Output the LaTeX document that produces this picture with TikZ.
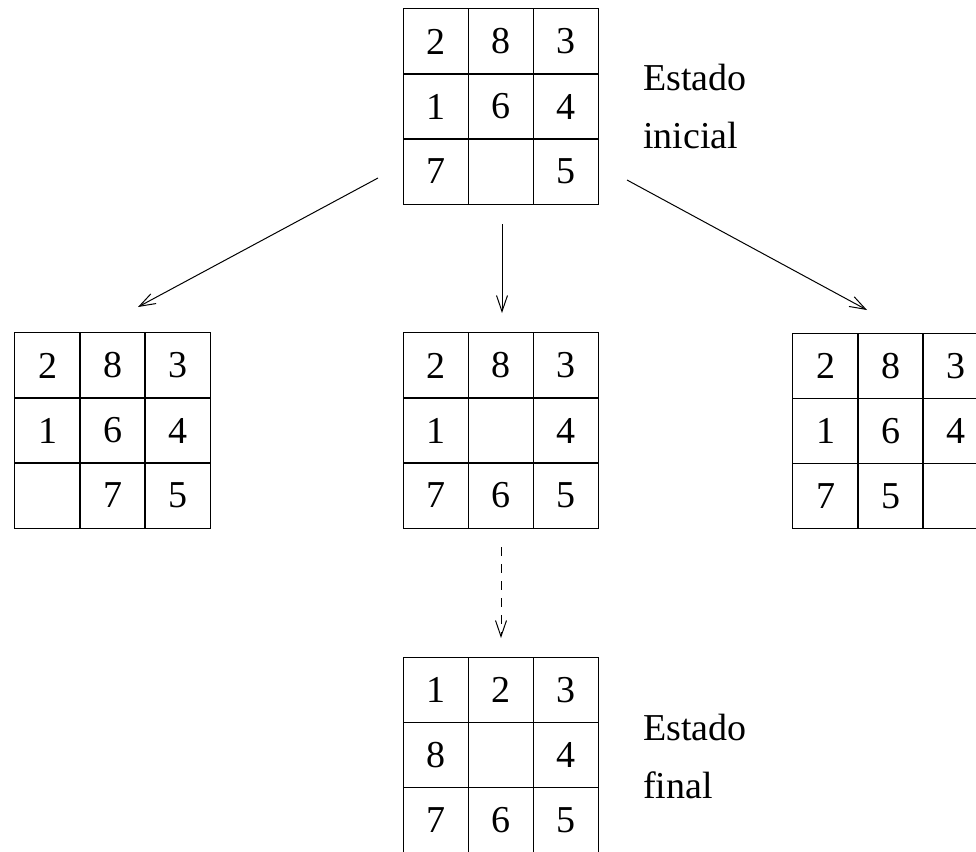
\documentclass[tikz,border=0pt]{standalone}
\usepackage{fontspec}
\setmainfont{Liberation Serif}
\usetikzlibrary{matrix,arrows.meta,calc}
\begin{document}
\begin{tikzpicture}[x=1pt,y=-1pt,
  puzzle/.style={matrix of nodes, nodes in empty cells, inner sep=0pt,
    column sep=0pt, row sep=0pt,
    nodes={minimum width=65pt, minimum height=65pt,
      inner sep=0pt, anchor=center,
      font=\fontsize{38}{46}\selectfont}},
  gridline/.style={line width=1.2pt},
  label text/.style={anchor=north west, inner sep=0pt, align=left,
      font=\fontsize{38}{58}\selectfont},
  move/.style={line width=1pt, -{Straight Barb[length=16pt,width=11pt,line width=1pt]}},
  hint/.style={move, dash pattern=on 9pt off 8pt}]
\useasboundingbox (0,0) rectangle (976,851);
\fill[white] (0,0) rectangle (976,851);
\matrix (b0) [puzzle] at (501,106.5) {2 & 8 & 3\\ 1 & 6 & 4\\ 7 & & 5\\};
\matrix (b1) [puzzle] at (112.5,430.5) {2 & 8 & 3\\ 1 & 6 & 4\\ & 7 & 5\\};
\matrix (b2) [puzzle] at (501,430.5) {2 & 8 & 3\\ 1 & & 4\\ 7 & 6 & 5\\};
\matrix (b3) [puzzle] at (890.5,431) {2 & 8 & 3\\ 1 & 6 & 4\\ 7 & 5 & \\};
\matrix (b4) [puzzle] at (501,755) {1 & 2 & 3\\ 8 & & 4\\ 7 & 6 & 5\\};
\foreach \b in {b0,b1,b2,b3,b4}{
  \draw[gridline] (\b.north west) rectangle (\b.south east);
  \foreach \f in {1/3,2/3}{
    \draw[gridline] ($(\b.north west)!\f!(\b.north east)$) -- ($(\b.south west)!\f!(\b.south east)$);
    \draw[gridline] ($(\b.north west)!\f!(\b.south west)$) -- ($(\b.north east)!\f!(\b.south east)$);
  }
}
\node[label text] (t0) at (643,64) {Estado\\inicial};
\node[label text] (t4) at (643,714) {Estado\\final};
\coordinate (s1) at (378,178); \coordinate (e1) at (138,307);
\coordinate (s2) at (502,224); \coordinate (e2) at (502,313);
\coordinate (s3) at (627,180); \coordinate (e3) at (867,310);
\coordinate (s4) at (501,547); \coordinate (e4) at (501,638);
\draw[move] (s1) -- (e1);
\draw[move] (s2) -- (e2);
\draw[move] (s3) -- (e3);
\draw[hint] (s4) -- (e4);
\end{tikzpicture}
\end{document}
